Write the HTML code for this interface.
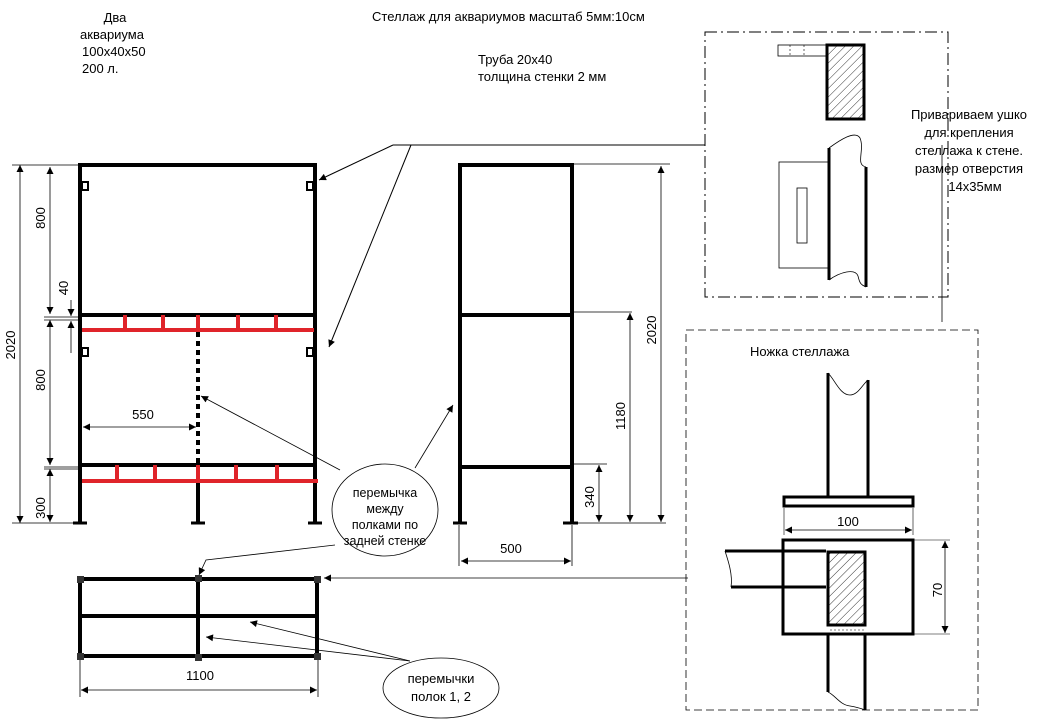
<!DOCTYPE html>
<html><head><meta charset="utf-8"><style>
html,body{margin:0;padding:0;background:#fff;}
svg{display:block;font-family:"Liberation Sans",Arial,sans-serif;font-size:13px;}
</style></head><body>
<svg width="1062" height="721" viewBox="0 0 1062 721" xmlns="http://www.w3.org/2000/svg">
<defs>
<marker id="a" viewBox="0 0 10 10" refX="10" refY="5" markerWidth="9" markerHeight="7" orient="auto-start-reverse" markerUnits="userSpaceOnUse"><path d="M0,0L10,5L0,10z" fill="#000"/></marker>
<pattern id="h" width="6" height="6" patternUnits="userSpaceOnUse" patternTransform="rotate(45)"><line x1="0" y1="0" x2="0" y2="6" stroke="#000" stroke-width="0.8"/></pattern>
</defs>
<g fill="#000">
<text x="115" y="22" text-anchor="middle">Два</text>
<text x="112" y="39" text-anchor="middle">аквариума</text>
<text x="82" y="56">100х40х50</text>
<text x="82" y="73">200 л.</text>
<text x="372" y="21">Стеллаж для аквариумов масштаб 5мм:10см</text>
<text x="478" y="64">Труба 20х40</text>
<text x="478" y="81">толщина стенки 2 мм</text>
</g>

<!-- Front view -->
<g stroke="#000" stroke-width="4" fill="none">
<path d="M80,523V165H315V523"/>
<line x1="80" y1="315" x2="315" y2="315"/>
<line x1="80" y1="465" x2="315" y2="465"/>
<line x1="198" y1="481" x2="198" y2="523"/>
<line x1="198" y1="332" x2="198" y2="465" stroke-dasharray="5,4"/>
<g stroke-width="3"><line x1="73" y1="523" x2="87" y2="523"/><line x1="191" y1="523" x2="205" y2="523"/><line x1="308" y1="523" x2="322" y2="523"/></g>
<g stroke-width="2"><rect x="82" y="182" width="6" height="8"/><rect x="307" y="182" width="6" height="8"/><rect x="82" y="348" width="6" height="8"/><rect x="307" y="348" width="6" height="8"/></g>
</g>
<g stroke="#e0242a" stroke-width="4">
<line x1="82" y1="330" x2="314" y2="330"/>
<line x1="82" y1="481" x2="318" y2="481"/>
<path d="M125,315V330M163,315V330M198,315V330M238,315V330M276,315V330"/>
<path d="M117,465V481M155,465V481M198,465V481M236,465V481M277,465V481"/>
</g>
<g stroke="#000" stroke-width="0.8" fill="none">
<path d="M12,165H80M12,523H80M44,317H80M44,320H80M44,467H80M44,469H80"/>
<line x1="20" y1="165" x2="20" y2="523" marker-start="url(#a)" marker-end="url(#a)"/>
<line x1="50" y1="167" x2="50" y2="314" marker-start="url(#a)" marker-end="url(#a)"/>
<line x1="50" y1="320" x2="50" y2="465" marker-start="url(#a)" marker-end="url(#a)"/>
<line x1="50" y1="469" x2="50" y2="522" marker-start="url(#a)" marker-end="url(#a)"/>
<line x1="71" y1="300" x2="71" y2="316" marker-end="url(#a)"/>
<line x1="71" y1="353" x2="71" y2="321" marker-end="url(#a)"/>
<line x1="83" y1="427" x2="196" y2="427" marker-start="url(#a)" marker-end="url(#a)"/>
</g>
<g fill="#000">
<text transform="translate(15,345) rotate(-90)" text-anchor="middle">2020</text>
<text transform="translate(45,218) rotate(-90)" text-anchor="middle">800</text>
<text transform="translate(68,288) rotate(-90)" text-anchor="middle">40</text>
<text transform="translate(45,380) rotate(-90)" text-anchor="middle">800</text>
<text transform="translate(45,508) rotate(-90)" text-anchor="middle">300</text>
<text x="143" y="419" text-anchor="middle">550</text>
</g>

<!-- Side view -->
<g stroke="#000" stroke-width="4" fill="none">
<path d="M460,523V165H572V523"/>
<line x1="460" y1="315" x2="572" y2="315"/>
<line x1="460" y1="467" x2="572" y2="467"/>
<g stroke-width="3"><line x1="453" y1="523" x2="467" y2="523"/><line x1="563" y1="523" x2="578" y2="523"/></g>
</g>
<g stroke="#000" stroke-width="0.8" fill="none">
<path d="M574,164H670M574,312H632M574,464H607M574,523H666M459,525V566M572,525V566"/>
<line x1="661" y1="166" x2="661" y2="522" marker-start="url(#a)" marker-end="url(#a)"/>
<line x1="630" y1="313" x2="630" y2="522" marker-start="url(#a)" marker-end="url(#a)"/>
<line x1="599" y1="465" x2="599" y2="522" marker-start="url(#a)" marker-end="url(#a)"/>
<line x1="461" y1="561" x2="571" y2="561" marker-start="url(#a)" marker-end="url(#a)"/>
</g>
<g fill="#000">
<text transform="translate(656,330) rotate(-90)" text-anchor="middle">2020</text>
<text transform="translate(625,416) rotate(-90)" text-anchor="middle">1180</text>
<text transform="translate(594,497) rotate(-90)" text-anchor="middle">340</text>
<text x="511" y="553" text-anchor="middle">500</text>
</g>

<!-- Leaders top -->
<g stroke="#000" stroke-width="1" fill="none">
<path d="M393,145H705"/>
<line x1="393" y1="145" x2="319" y2="180" marker-end="url(#a)"/>
<line x1="411" y1="145" x2="329" y2="347" marker-end="url(#a)"/>
</g>

<!-- Bubble 1 -->
<ellipse cx="385" cy="510" rx="53" ry="46" fill="#fff" stroke="#000" stroke-width="0.8"/>
<g fill="#000" font-size="12.5" text-anchor="middle">
<text x="385" y="497">перемычка</text>
<text x="385" y="513">между</text>
<text x="385" y="529">полками по</text>
<text x="385" y="545">задней стенке</text>
</g>
<g stroke="#000" stroke-width="0.8" fill="none">
<line x1="340" y1="470" x2="201" y2="396" marker-end="url(#a)"/>
<line x1="415" y1="468" x2="453" y2="405" marker-end="url(#a)"/>
<polyline points="335,545 206,560 199,575" marker-end="url(#a)"/>
<line x1="688" y1="578" x2="324" y2="578" marker-end="url(#a)"/>
</g>

<!-- Plan view -->
<g stroke="#000" stroke-width="4" fill="none">
<rect x="80" y="579" width="237" height="77"/>
<line x1="80" y1="616" x2="317" y2="616"/>
<line x1="198" y1="579" x2="198" y2="656"/>
</g>
<g fill="#333"><rect x="77" y="576" width="7" height="7"/><rect x="195" y="575" width="7" height="7"/><rect x="314" y="576" width="7" height="7"/><rect x="77" y="653" width="7" height="7"/><rect x="195" y="654" width="7" height="7"/><rect x="314" y="653" width="7" height="7"/></g>
<g stroke="#000" stroke-width="0.8" fill="none">
<path d="M80,660V697M318,660V697"/>
<line x1="81" y1="690" x2="317" y2="690" marker-start="url(#a)" marker-end="url(#a)"/>
<line x1="410" y1="661" x2="250" y2="622" marker-end="url(#a)"/>
<line x1="410" y1="661" x2="206" y2="637" marker-end="url(#a)"/>
</g>
<text x="200" y="680" text-anchor="middle" fill="#000">1100</text>
<ellipse cx="441" cy="688" rx="58" ry="30" fill="#fff" stroke="#000" stroke-width="0.8"/>
<text x="441" y="683" text-anchor="middle" fill="#000">перемычки</text>
<text x="441" y="701" text-anchor="middle" fill="#000">полок 1, 2</text>

<!-- Detail box top-right -->
<rect x="705" y="32" width="243" height="265" fill="none" stroke="#000" stroke-width="1" stroke-dasharray="12,4,2,4"/>
<rect x="778" y="45" width="48" height="11" fill="none" stroke="#000" stroke-width="0.8"/>
<path d="M790,45V56M804,45V56" stroke="#000" stroke-width="0.6" stroke-dasharray="2,2"/>
<rect x="827" y="45" width="37" height="74" fill="url(#h)" stroke="#000" stroke-width="3"/>
<rect x="779" y="162" width="49" height="106" fill="none" stroke="#000" stroke-width="0.8"/>
<rect x="797" y="188" width="10" height="55" fill="none" stroke="#000" stroke-width="0.8"/>
<path d="M829,148V280M866,167V287" stroke="#000" stroke-width="3"/>
<path d="M829,148C840,140 855,130 860,138C865,150 855,165 866,167M829,280C840,272 855,268 858,276C860,285 862,285 866,287" fill="none" stroke="#000" stroke-width="0.8"/>
<line x1="942" y1="145" x2="942" y2="322" stroke="#000" stroke-width="0.8"/>
<rect x="906" y="105" width="86" height="95" fill="none"/>
<g fill="#000" text-anchor="middle">
<text x="969" y="119">Привариваем ушко</text>
<text x="969" y="137">для крепления</text>
<text x="969" y="155">стеллажа к стене.</text>
<text x="969" y="173">размер отверстия</text>
<text x="975" y="191">14х35мм</text>
</g>

<!-- Foot detail -->
<rect x="686" y="330" width="292" height="380" fill="none" stroke="#000" stroke-width="0.8" stroke-dasharray="8,4"/>
<text x="750" y="356" fill="#000">Ножка стеллажа</text>
<path d="M828,373V497M868,380V497" stroke="#000" stroke-width="3"/>
<path d="M828,373C835,380 840,395 850,395C858,395 862,385 868,380" fill="none" stroke="#000" stroke-width="0.8"/>
<rect x="784" y="497" width="129" height="9" fill="none" stroke="#000" stroke-width="3"/>
<path d="M784,508V535M913,508V535" stroke="#000" stroke-width="0.6"/>
<line x1="785" y1="530" x2="912" y2="530" stroke="#000" stroke-width="0.8" marker-start="url(#a)" marker-end="url(#a)"/>
<text x="848" y="526" text-anchor="middle" fill="#000">100</text>
<rect x="783" y="540" width="130" height="94" fill="none" stroke="#000" stroke-width="3"/>
<rect x="828" y="552" width="37" height="73" fill="url(#h)" stroke="#000" stroke-width="3"/>
<path d="M725,551H826M731,587H826" stroke="#000" stroke-width="3"/>
<path d="M725,551C728,560 733,575 731,587" fill="none" stroke="#000" stroke-width="0.8"/>
<path d="M784,553V585M830,630H865" stroke="#000" stroke-width="0.6" stroke-dasharray="2,2"/>
<path d="M828,634V692M865,634V710" stroke="#000" stroke-width="3"/>
<path d="M828,692C835,695 840,705 850,706C856,707 860,708 865,710" fill="none" stroke="#000" stroke-width="0.8"/>
<path d="M914,540H950M914,634H950" stroke="#000" stroke-width="0.6"/>
<line x1="945" y1="541" x2="945" y2="633" stroke="#000" stroke-width="0.8" marker-start="url(#a)" marker-end="url(#a)"/>
<text transform="translate(942,590) rotate(-90)" text-anchor="middle" fill="#000">70</text>
</svg>
</body></html>
